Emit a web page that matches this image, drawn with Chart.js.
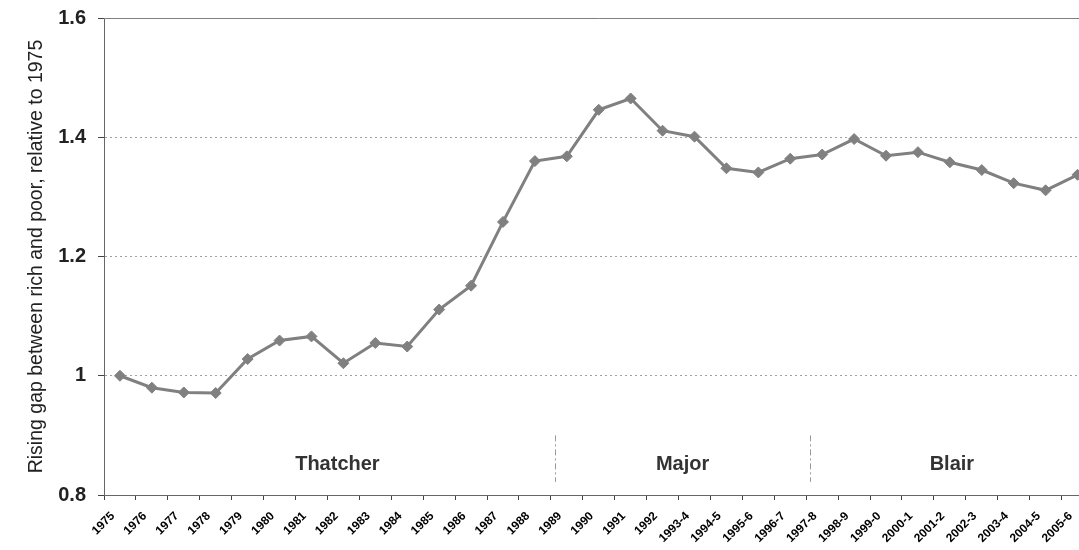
<!DOCTYPE html>
<html>
<head>
<meta charset="utf-8">
<script src="https://cdn.jsdelivr.net/npm/chart.js@4/dist/chart.umd.min.js"></script>
<style>
  html, body { margin: 0; padding: 0; background: #fff; overflow: hidden; }
  #wrap { width: 1100px; height: 550px; }
</style>
</head>
<body>
<div id="wrap"><canvas id="chart" width="1100" height="550"></canvas></div>
<script>
// data
const years = ['1975', '1976', '1977', '1978', '1979', '1980', '1981', '1982', '1983', '1984',
  '1985', '1986', '1987', '1988', '1989', '1990', '1991', '1992', '1993-4', '1994-5',
  '1995-6', '1996-7', '1997-8', '1998-9', '1999-0', '2000-1', '2001-2', '2002-3', '2003-4',
  '2004-5', '2005-6'];
const gap = [1.000, 0.980, 0.972, 0.971, 1.028, 1.059, 1.066, 1.021, 1.055, 1.049,
  1.111, 1.151, 1.258, 1.360, 1.368, 1.446, 1.465, 1.411, 1.401, 1.348,
  1.341, 1.364, 1.371, 1.397, 1.369, 1.375, 1.358, 1.345, 1.323,
  1.311, 1.337];
const yTicks = [0.8, 1, 1.2, 1.4, 1.6];
const yLabels = ['0.8', '1', '1.2', '1.4', '1.6'];
const eraNames = ['Thatcher', 'Major', 'Blair'];
const eraStart = ['1975', '1989', '1997-8'];
const eraEnd = ['1988', '1996-7', '2005-6'];

const FONT = '"Liberation Sans", Arial, sans-serif';

// era labels, dividers and top frame line
const eraPlugin = {
  id: 'eras',
  afterDraw(chart) {
    const { ctx, chartArea, scales: { x, y } } = chart;
    const px = lbl => x.getPixelForValue(years.indexOf(lbl));
    ctx.save();
    ctx.strokeStyle = '#808080';
    ctx.lineWidth = 1;
    ctx.beginPath();
    ctx.moveTo(chartArea.left, Math.round(chartArea.top) + 0.5);
    ctx.lineTo(chartArea.right, Math.round(chartArea.top) + 0.5);
    ctx.stroke();

    const bounds = [];
    for (let i = 0; i < eraNames.length - 1; i++) {
      bounds.push((px(eraEnd[i]) + px(eraStart[i + 1])) / 2 + 4);
    }
    ctx.strokeStyle = '#999';
    ctx.setLineDash([6, 3, 2, 3]);
    bounds.forEach(bx => {
      ctx.beginPath();
      ctx.moveTo(Math.round(bx) + 0.5, y.getPixelForValue(0.9));
      ctx.lineTo(Math.round(bx) + 0.5, y.getPixelForValue(0.822));
      ctx.stroke();
    });
    ctx.setLineDash([]);

    ctx.fillStyle = '#333';
    ctx.font = 'bold 20px ' + FONT;
    ctx.textAlign = 'center';
    ctx.textBaseline = 'alphabetic';
    eraNames.forEach((name, i) => {
      const l = i === 0 ? px(eraStart[0]) : bounds[i - 1];
      const r = i === eraNames.length - 1 ? chartArea.right : bounds[i];
      ctx.fillText(name, (l + r) / 2, y.getPixelForValue(0.842));
    });
    ctx.restore();
  }
};

const canvas = document.getElementById('chart');
new Chart(canvas.getContext('2d'), {
  type: 'line',
  data: {
    labels: years,
    datasets: [{
      data: gap,
      borderColor: '#808080',
      backgroundColor: '#808080',
      borderWidth: 3,
      pointStyle: 'rectRot',
      pointRadius: 5.5,
      pointBackgroundColor: '#808080',
      pointBorderColor: '#808080',
      pointBorderWidth: 1,
      tension: 0
    }]
  },
  options: {
    responsive: false,
    animation: false,
    layout: { padding: { top: 18, right: 6, left: 0, bottom: 0 } },
    plugins: { legend: { display: false }, tooltip: { enabled: false } },
    scales: {
      x: {
        offset: true,
        grid: { display: true, offset: true, drawOnChartArea: false, tickLength: 5, tickColor: '#444' },
        border: { display: true, color: '#666', width: 1 },
        ticks: {
          autoSkip: false, maxRotation: 45, minRotation: 45, padding: 9, labelOffset: -7,
          color: '#000', font: { family: FONT, size: 12, weight: 'bold' }
        },
        afterFit: s => { s.height = 55; s.paddingLeft = 0; s.paddingRight = 0; }
      },
      y: {
        min: 0.8, max: 1.6,
        afterBuildTicks: s => { s.ticks = yTicks.map(v => ({ value: v })); },
        grid: {
          color: c => (c.tick && (c.index === 0 || c.index === yTicks.length - 1)) ? 'rgba(0,0,0,0)' : '#a0a0a0',
          tickColor: '#444', tickLength: 6, lineWidth: 1
        },
        border: { display: true, color: '#666', width: 1, dash: [2, 3] },
        ticks: {
          padding: 12, color: '#222',
          font: { family: FONT, size: 20, weight: 'bold' },
          callback: (v, i) => yLabels[i]
        },
        title: {
          display: true,
          text: 'Rising gap between rich and poor, relative to 1975',
          color: '#222',
          font: { family: FONT, size: 19.5 },
          padding: { top: 25, bottom: 0 }
        },
        afterFit: s => { s.width = 104; s.paddingTop = 0; s.paddingBottom = 0; }
      }
    }
  },
  plugins: [eraPlugin]
});
</script>
</body>
</html>
